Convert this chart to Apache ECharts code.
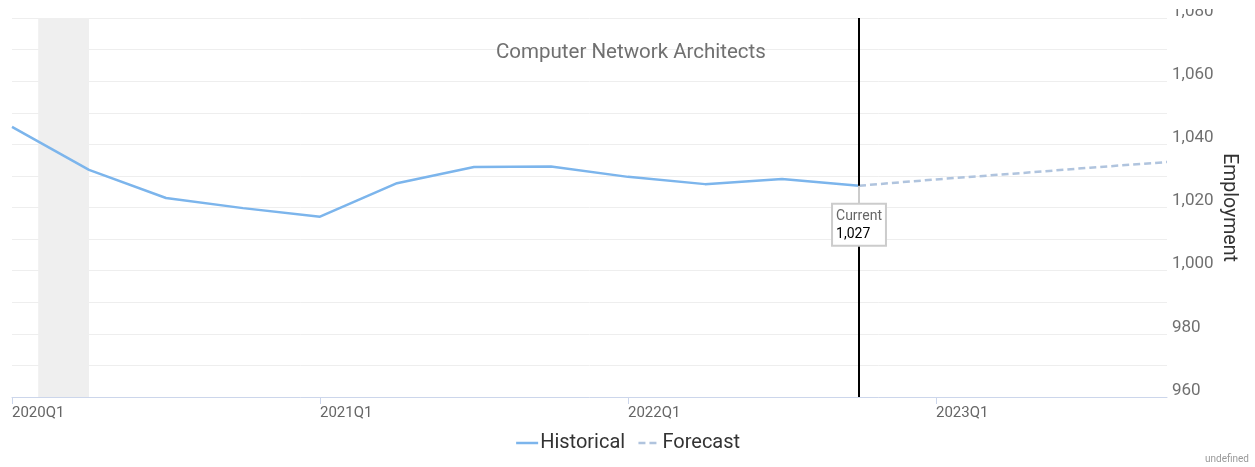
<!DOCTYPE html>
<html>
<head>
<meta charset="utf-8">
<script src="https://cdn.jsdelivr.net/npm/echarts@6/dist/echarts.min.js"></script>
<style>
html,body{margin:0;padding:0;background:#fff;}
#chart{width:1255px;height:467px;}
</style>
</head>
<body>
<div id="chart"></div>
<script>
// ---- data ----
var quarters = ['2020Q1','2020Q2','2020Q3','2020Q4','2021Q1','2021Q2','2021Q3','2021Q4',
                '2022Q1','2022Q2','2022Q3','2022Q4','2023Q1','2023Q2','2023Q3','2023Q4'];
var historical = [1045.5, 1031.9, 1023.0, 1019.8, 1017.1, 1027.7, 1032.8, 1033.0,
                  1029.7, 1027.4, 1029.0, 1026.9];
var forecast = [1026.9, 1028.9, 1030.7, 1032.6, 1034.4];
var currentIndex = 11;
var recession = [0.34, 1.0];           // quarter-index span of shaded band
var yTickLabels = [960, 980, 1000, 1020, 1040, 1060, 1080];
var xTickLabels = ['2020Q1', '2021Q1', '2022Q1', '2023Q1'];
var title = 'Computer Network Architects';

// ---- build series data ----
var histData = historical.map(function (v, i) { return [i, v]; });
var fcData = forecast.map(function (v, i) { return [currentIndex + i, v]; });
var xTickIdx = xTickLabels.map(function (q) { return quarters.indexOf(q); });
var currentVal = historical[currentIndex];
var fmt = function (v) { return Math.round(v).toLocaleString('en-US'); };

var chart = echarts.init(document.getElementById('chart'), null, { renderer: 'canvas' });
chart.setOption({
  animation: false,
  backgroundColor: '#ffffff',
  textStyle: { fontFamily: 'Roboto' },
  title: {
    text: title,
    left: 491,
    top: 37,
    textStyle: { fontSize: 20.5, fontWeight: 'normal', color: '#707070', fontFamily: 'Roboto' }
  },
  legend: {
    bottom: 9,
    left: 'center',
    itemWidth: 22,
    itemHeight: 10,
    itemGap: 12,
    itemStyle: { opacity: 0 },
    lineStyle: { width: 2.5 },
    textStyle: { fontSize: 20, color: '#333', fontFamily: 'Roboto', padding: [0, 0, 0, -3] },
    data: ['Historical', 'Forecast']
  },
  grid: { left: 12, right: 88, top: 18, bottom: 70, containLabel: false },
  xAxis: {
    type: 'value',
    min: 0,
    max: quarters.length - 1,
    interval: 4,
    splitLine: { show: false },
    axisLine: { show: true, lineStyle: { color: '#ccd6eb', width: 1 } },
    axisTick: { show: true, customValues: xTickIdx, length: 7, lineStyle: { color: '#ccd6eb' } },
    axisLabel: {
      customValues: xTickIdx,
      align: 'left',
      margin: 9,
      fontSize: 15,
      color: '#666',
      fontFamily: 'Roboto',
      formatter: function (v) { return quarters[v] || ''; }
    }
  },
  yAxis: {
    type: 'value',
    position: 'right',
    min: yTickLabels[0],
    max: yTickLabels[yTickLabels.length - 1],
    interval: 20,
    name: 'Employment',
    nameLocation: 'middle',
    nameRotate: -90,
    nameGap: 52,
    nameMoveOverlap: false,
    nameTextStyle: { fontSize: 19.5, color: '#333', fontFamily: 'Roboto' },
    axisLine: { show: false },
    axisTick: { show: false },
    minorTick: { show: false, splitNumber: 2 },
    splitLine: { show: true, lineStyle: { color: '#eeeeee', width: 1 } },
    minorSplitLine: { show: true, lineStyle: { color: '#eeeeee', width: 1 } },
    axisLabel: {
      margin: 5,
      fontSize: 17,
      color: '#707070',
      fontFamily: 'Roboto',
      verticalAlign: 'bottom',
      lineHeight: 13,
      formatter: function (v) { return v.toLocaleString('en-US'); }
    }
  },
  series: [
    {
      name: 'Historical',
      type: 'line',
      data: histData,
      symbol: 'none',
      z: 3,
      lineStyle: { color: '#7cb5ec', width: 2.5 },
      itemStyle: { color: '#7cb5ec' },
      markArea: {
        silent: true,
        itemStyle: { color: '#efefef' },
        data: [[{ xAxis: recession[0] }, { xAxis: recession[1] }]]
      },
      markLine: {
        silent: true,
        symbol: 'none',
        animation: false,
        label: { show: false },
        data: [
          { xAxis: currentIndex, lineStyle: { color: '#000', width: 2, type: 'solid' } },
          [
            { coord: [currentIndex, currentVal], lineStyle: { color: '#cccccc', width: 2, type: 'solid' } },
            { coord: [currentIndex, currentVal - 6] }
          ]
        ]
      },
      markPoint: {
        silent: true,
        symbol: 'circle',
        symbolSize: 0,
        data: [{ coord: [currentIndex, currentVal] }],
        label: {
          show: true,
          position: 'bottom',
          distance: 19,
          backgroundColor: '#fff',
          borderColor: '#cccccc',
          borderWidth: 2,
          padding: [3, 3, 1, 3],
          align: 'center',
          formatter: '{a|Current}\n{b|' + fmt(currentVal) + '}',
          rich: {
            a: { fontSize: 14, color: '#666', fontFamily: 'Roboto', lineHeight: 18, align: 'left' },
            b: { fontSize: 14, color: '#000', fontFamily: 'Roboto', lineHeight: 18, align: 'left' }
          }
        }
      }
    },
    {
      name: 'Forecast',
      type: 'line',
      data: fcData,
      symbol: 'none',
      z: 2,
      lineStyle: { color: '#b0c4de', width: 2.5, type: [7, 4] },
      itemStyle: { color: '#b0c4de' }
    }
  ],
  graphic: [
    { type: 'rect', right: 0, top: 0, z: 100, shape: { width: 86, height: 9 }, style: { fill: '#fff' } },
    { type: 'text', right: 6, bottom: 3, z: 100,
      style: { text: 'undefined', fontSize: 10, fill: '#999', fontFamily: 'Roboto' } }
  ]
});
</script>
</body>
</html>
